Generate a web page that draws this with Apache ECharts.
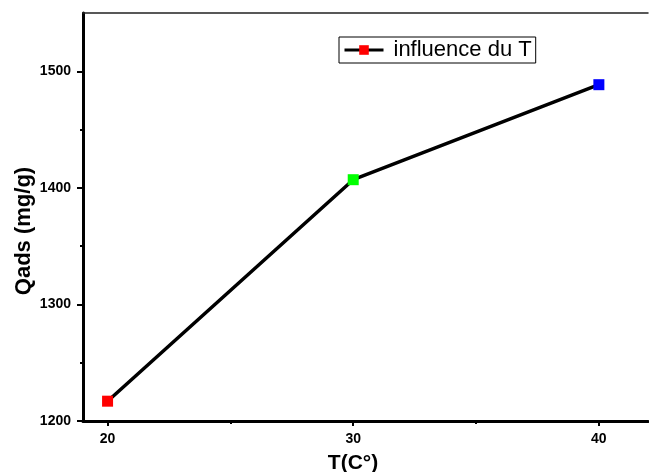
<!DOCTYPE html>
<html>
<head>
<meta charset="utf-8">
<script src="https://cdn.jsdelivr.net/npm/echarts@6/dist/echarts.min.js"></script>
<style>
  html, body { margin: 0; padding: 0; background: #fff; }
  #chart { width: 649px; height: 472px; }
</style>
</head>
<body>
<div id="chart"></div>
<script>
// Adsorbed quantity versus temperature
const temperatures = [20, 30, 40];
const qads = [1217, 1407, 1488.5];
const pointColors = ['#ff0000', '#00ff00', '#0000ff'];
const xMajorTicks = [20, 30, 40];
const xMinorTicks = [25, 35];
const yMajorTicks = [1200, 1300, 1400, 1500];
const yMinorTicks = [1250, 1350, 1450];
const seriesName = 'influence du T';
const xTitle = 'T(C°)';
const yTitle = 'Qads (mg/g)';

const FONT = '"Liberation Sans", Arial, sans-serif';
const X_RANGE = { min: 19, max: 42 };
const Y_RANGE = { min: 1200, max: 1550 };
const gridRect = { left: 83, right: 1, top: 13, bottom: 51, containLabel: false, outerBoundsMode: 'none' };

const chart = echarts.init(document.getElementById('chart'), null, { renderer: 'canvas' });

const points = temperatures.map((t, i) => ({
  value: [t, qads[i]],
  itemStyle: { color: pointColors[i] }
}));

const plain = v => String(v);

const option = {
  animation: false,
  backgroundColor: '#fff',
  grid: [
    Object.assign({}, gridRect),
    Object.assign({}, gridRect)
  ],
  legend: {
    left: 339,
    top: 37,
    padding: [2, 4, 2, 4],
    borderColor: '#000',
    borderWidth: 1,
    itemWidth: 39,
    itemHeight: 12,
    itemGap: 0,
    lineStyle: { color: '#000', width: 3 },
    textStyle: { fontFamily: FONT, fontSize: 22, color: '#000', padding: [0, 0, 0, 5] },
    data: [seriesName]
  },
  xAxis: [
    {
      // main bottom axis
      gridIndex: 0, type: 'value', position: 'bottom',
      min: X_RANGE.min, max: X_RANGE.max,
      axisLine: { lineStyle: { color: '#000', width: 3 } },
      axisTick: { inside: false, length: 5, lineStyle: { color: '#000', width: 2 }, customValues: xMajorTicks },
      axisLabel: { customValues: xMajorTicks, formatter: plain, margin: 11, fontFamily: FONT, fontSize: 14, fontWeight: 'bold', color: '#000' },
      splitLine: { show: false },
      name: xTitle, nameLocation: 'middle', nameGap: 32,
      nameTextStyle: { fontFamily: FONT, fontSize: 21, fontWeight: 'bold', color: '#000', padding: [0, 25, 0, 0] }
    },
    {
      // thin top frame line
      gridIndex: 0, type: 'value', position: 'top',
      min: X_RANGE.min, max: X_RANGE.max,
      axisLine: { lineStyle: { color: '#222', width: 1.5 } },
      axisTick: { show: false }, axisLabel: { show: false }, splitLine: { show: false }
    },
    {
      // minor ticks on the bottom axis
      gridIndex: 1, type: 'value', position: 'bottom',
      min: X_RANGE.min, max: X_RANGE.max,
      axisLine: { show: false },
      axisTick: { inside: false, length: 3, lineStyle: { color: '#000', width: 2 }, customValues: xMinorTicks },
      axisLabel: { show: false }, splitLine: { show: false }
    }
  ],
  yAxis: [
    {
      gridIndex: 0, type: 'value', position: 'left',
      min: Y_RANGE.min, max: Y_RANGE.max,
      axisLine: { show: true, lineStyle: { color: '#000', width: 3 } },
      axisTick: { show: true, inside: false, length: 6, lineStyle: { color: '#000', width: 2 }, customValues: yMajorTicks },
      axisLabel: { customValues: yMajorTicks, formatter: plain, margin: 12, fontFamily: FONT, fontSize: 14, fontWeight: 'bold', color: '#000' },
      splitLine: { show: false },
      name: yTitle, nameLocation: 'middle', nameGap: 48, nameMoveOverlap: false,
      nameTextStyle: { fontFamily: FONT, fontSize: 22, fontWeight: 'bold', color: '#000', padding: [0, 28, 0, 0] }
    },
    {
      gridIndex: 1, type: 'value', position: 'left',
      min: Y_RANGE.min, max: Y_RANGE.max,
      axisLine: { show: false },
      axisTick: { show: true, inside: false, length: 3, lineStyle: { color: '#000', width: 2 }, customValues: yMinorTicks },
      axisLabel: { show: false }, splitLine: { show: false }
    }
  ],
  series: [
    {
      name: seriesName,
      type: 'line',
      xAxisIndex: 0,
      yAxisIndex: 0,
      data: points,
      symbol: 'rect',
      symbolSize: 11,
      showSymbol: true,
      itemStyle: { color: '#ff0000' },
      lineStyle: { color: '#000', width: 3.5 },
      z: 3
    }
  ]
};

chart.setOption(option);
</script>
</body>
</html>
